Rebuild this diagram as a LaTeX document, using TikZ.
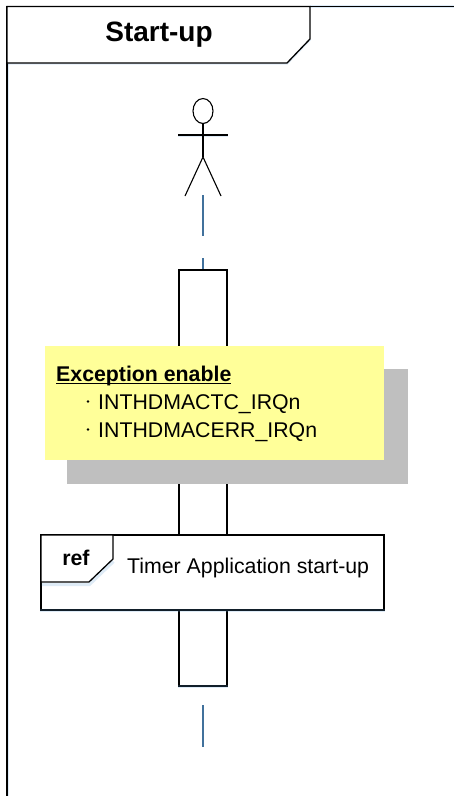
\documentclass[tikz,border=0pt]{standalone}
\usepackage{fontspec}
\setmainfont{Liberation Sans}
\usepackage{tikz}
\usetikzlibrary{shapes.geometric}
\definecolor{lifeblue}{RGB}{65,113,156}
\definecolor{noteyellow}{RGB}{255,255,153}
\definecolor{notegrey}{RGB}{191,191,191}
\definecolor{glowblue}{RGB}{91,155,213}
\tikzset{
  glow/.style={draw=glowblue,opacity=.2,line width=3pt,shift={(0.5,2.5)}},
  frameline/.style={draw=black,line width=1.3pt},
  lifeline/.style={draw=lifeblue,line width=1.6pt},
  stickline/.style={draw=black,line width=1.1pt},
  sized/.style={inner sep=0pt,font=\fontsize{#1}{#1}\selectfont}
}
\begin{document}
\begin{tikzpicture}[x=1pt,y=-1pt]
\useasboundingbox (0,0) rectangle (454,796);
% frame
\coordinate (frameleft) at (7,796);\coordinate (framecorner) at (7,6.5);\coordinate (frameright) at (454,6.5);
\coordinate (titlea) at (310,6.5);\coordinate (titleb) at (310,39);\coordinate (titlec) at (287,63);\coordinate (titled) at (7,63);
\draw[glow] (framecorner)--(frameleft);
\draw[glow] (titlea)--(frameright);
\draw[glow] (titleb)--(titlec)--(titled);
\draw[frameline] (frameleft)--(framecorner)--(frameright);
\draw[frameline,fill=white] (framecorner)--(titlea)--(titleb)--(titlec)--(titled)--cycle;
\node[sized=28,anchor=base] (title) at (159,41.2){\textbf{Start-up}};

% actor
\node[draw=black,line width=1.1pt,ellipse,fill=white,minimum width=20pt,minimum height=25pt,inner sep=0pt] (head) at (203,111){};
\coordinate (armleft) at (178,135);\coordinate (armright) at (227.5,135);
\coordinate (hip) at (203,157);\coordinate (legleft) at (185,196);\coordinate (legright) at (221,196);
\draw[glow] (armleft)--(armright);
\draw[stickline] (armleft)--(armright);
\draw[stickline] (head.south)--(hip);
\draw[stickline] (legleft)--(hip)--(legright);

% lifeline
\coordinate (lifea) at (203,195);\coordinate (lifeb) at (203,236);\coordinate (lifec) at (203,258);
\draw[lifeline] (lifea)--(lifeb);
\node[frameline,fill=white,minimum width=48pt,minimum height=416pt,inner sep=0pt] (activation) at (203,478){};
\draw[lifeline] (lifec)--(activation.north);
\draw[glow] (activation.south west)--(activation.south east);
\coordinate (lifed) at (203,705);\coordinate (lifee) at (203,747);
\draw[lifeline] (lifed)--(lifee);

% note
\node[fill=notegrey,draw=black!25,line width=0.6pt,minimum width=340pt,minimum height=114pt,inner sep=0pt] (noteshadow) at (237,426){};
\node[fill=noteyellow,minimum width=339pt,minimum height=114pt,inner sep=0pt] (note) at (214.5,403){};
\node[sized=21.3,anchor=base west] (notehead) at (56,381.3){\textbf{Exception enable}};
\draw[line width=1.4pt] (notehead.base west)++(0,2) -- ++(174.5,0);
\node[sized=21.3,anchor=base west] (itema) at (98,409){INTHDMACTC\_IRQn};
\node[sized=21.3,anchor=base west] (itemb) at (98,437){INTHDMACERR\_IRQn};
\fill (88,401.5) circle (1.4pt) (88,429.5) circle (1.4pt);

% ref
\node[frameline,fill=white,minimum width=343pt,minimum height=75pt,inner sep=0pt] (ref) at (212.5,572.5){};
\draw[glow] (ref.south west)--(ref.south east);
\draw[frameline,fill=white] (41,535)--(113,535)--(113,559)--(89,582)--(41,582)--cycle;
\draw[glow] (113,559)--(89,582)--(41,582);
\node[sized=21.3,anchor=base] (reflabel) at (76,565){\textbf{ref}};
\node[sized=21.3,anchor=base west] (reftext) at (127,573.3){Timer Application start-up};
\end{tikzpicture}
\end{document}
